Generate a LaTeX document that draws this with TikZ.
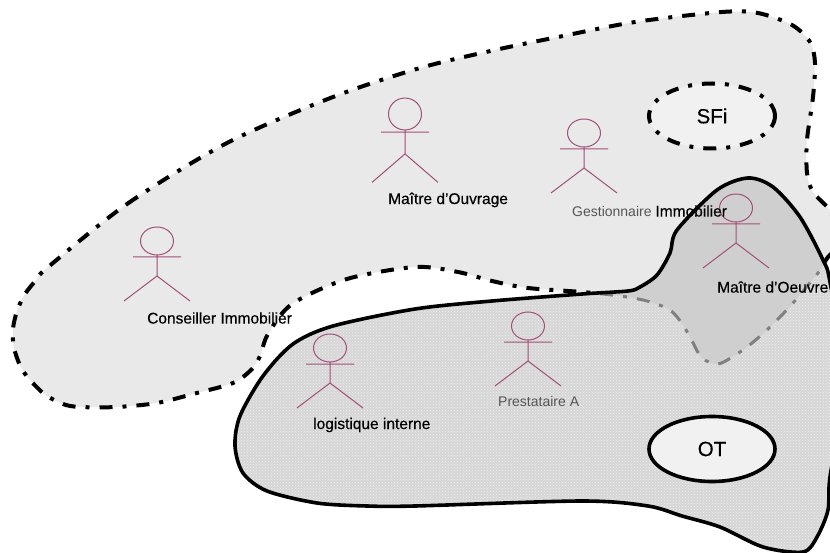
\documentclass[tikz,border=0pt]{standalone}
\usepackage{fontspec}
\setmainfont[FakeBold=0.35]{Liberation Sans}
\newfontfamily\palefont{Liberation Sans}
\usetikzlibrary{shapes.geometric,patterns}
\definecolor{actorcol}{HTML}{A24F78}
\definecolor{zonecol}{HTML}{E9E9E9}
\definecolor{groupcol}{HTML}{D6D6D6}
\definecolor{overlapcol}{HTML}{CFCFCF}
\definecolor{holecol}{HTML}{F1F1F1}
\definecolor{paletext}{HTML}{555555}
\def\zonepath{plot[smooth cycle] coordinates {(47,268) (127,204) (227,143) (333,97) (420,68) (495,50) (558,37) (635,22) (722,12) (758,13) (792,25) (810,42) (815,63) (813,97) (807,140) (807,173) (813,192) (830,210) (848,235) (828,257) (818,273) (793,303) (780,317) (767,330) (752,343) (737,354) (718,364) (702,358) (692,341) (683,325) (670,310) (647,301) (620,296) (582,292) (528,288) (492,281) (458,272) (415,267) (347,279) (292,304) (268,334) (260,356) (252,369) (233,383) (193,394) (157,403) (117,407) (80,407) (63,404) (43,393) (23,371) (14,348) (13,329) (17,311) (25,294) (37,279)}}
\def\grouppath{plot[smooth cycle] coordinates {(748,178) (717,190) (677,230) (670,253) (657,275) (640,287) (628,291) (582,294) (492,301) (415,309) (333,326) (293,344) (263,376) (240,416) (235,446) (243,473) (267,491) (317,503) (367,506) (415,506) (582,501) (648,506) (682,516) (720,527) (763,547) (803,552) (817,537) (828,510) (830,477) (845,380) (830,282) (823,260) (800,217) (773,187)}}

\begin{document}
\begin{tikzpicture}[x=1pt,y=-1pt,
	dashdot/.style={line width=4pt,dash pattern=on 13pt off 10pt on 4pt off 10pt},
	actor/.pic={
		\draw[actorcol,line width=1pt] (0,0) ellipse (16.5 and 14)
			(-24,16) -- (24,16)
			(0,14) -- (0,35) -- (-33,60)
			(0,35) -- (33,60);
	},
	label/.style={anchor=west,inner sep=0,font=\fontsize{15.5}{18}\selectfont},
	pale/.style={anchor=west,inner sep=0,text=paletext,font=\palefont\fontsize{14}{18}\selectfont},
	blob/.style={ellipse,minimum width=126,minimum height=65,inner sep=0,fill=holecol,font=\fontsize{20.5}{22}\selectfont}]
	\clip (0,0) rectangle (830,553);
	% dash-dot zone, the group covers it further on
	\fill[zonecol] \zonepath;
	\draw[dashdot] \zonepath;
	\fill[groupcol] \grouppath;
	\fill[pattern=crosshatch dots,pattern color=white!60!groupcol] \grouppath;
	\begin{scope}
		\clip \grouppath;
		\fill[overlapcol] \zonepath;
		\draw[dashdot,line width=3pt,gray] \zonepath;
	\end{scope}
	\draw[line width=3.6pt] \grouppath;
	\node[blob,draw,dashdot] (sfi) at (712,116) {SFi};
	\node[blob,draw,line width=3.6pt] (ot) at (712,449) {OT};
	% actors
	\pic at (157,241) {actor};
	\pic[yscale=1.14] at (405,114) {actor};
	\pic at (584,133) {actor};
	\pic at (736,208) {actor};
	\pic at (330,348) {actor};
	\pic at (528,326) {actor};
	\node[label] (conseiller) at (147,318) {Conseiller Immobilier};
	\node[label] (ouvrage) at (388,200) {Maître d’Ouvrage};
	\node[pale] (gestion) at (572,211) {Gestionnaire {\color{black}\normalfont\fontsize{15.5}{18}\selectfont Immobilier}};
	\node[label] (oeuvre) at (717,287) {Maître d’Oeuvre};
	\node[label] (logistique) at (313,425) {logistique interne};
	\node[pale] (prestataire) at (498,401) {Prestataire A};
\end{tikzpicture}
\end{document}
